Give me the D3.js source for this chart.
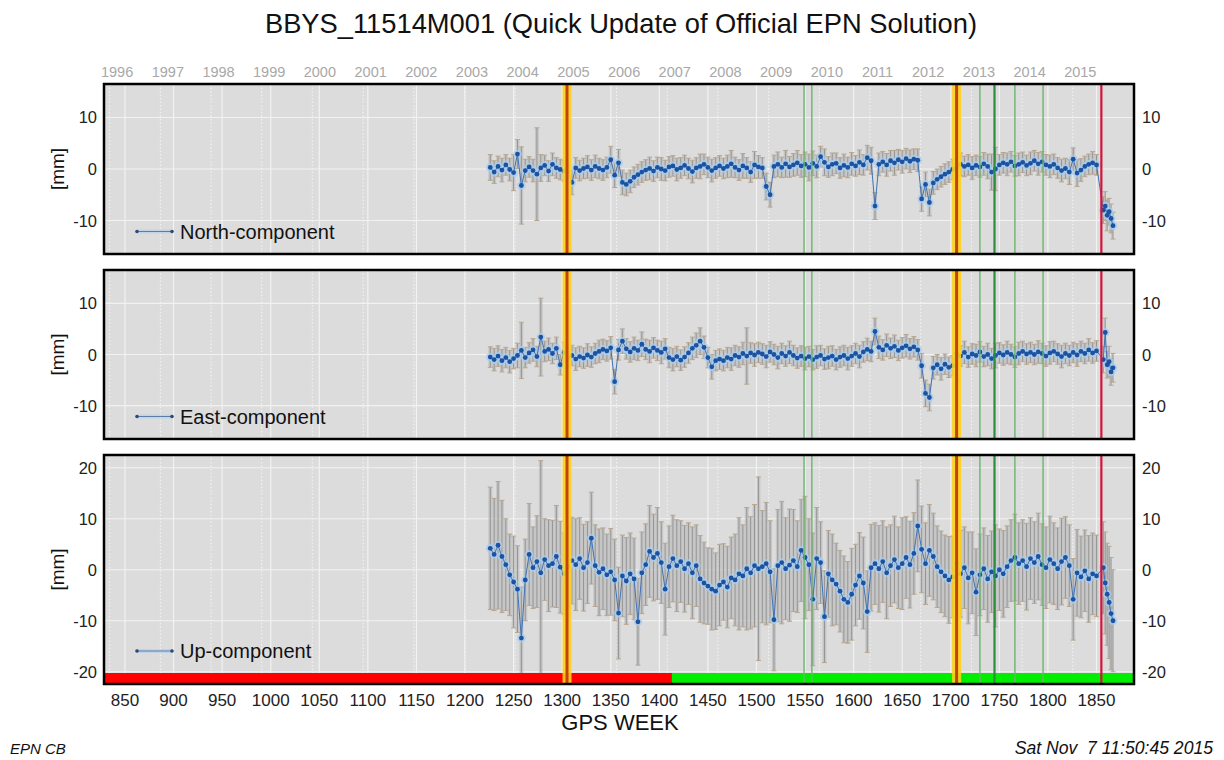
<!DOCTYPE html>
<html><head><meta charset="utf-8">
<script src="https://cdn.jsdelivr.net/npm/d3@7"></script>
<style>
body{margin:0;background:#fff}
text{font-family:"Liberation Sans",Arial,Helvetica,sans-serif}
</style>
</head><body>
<svg id="c" width="1224" height="760"></svg>
<script>
// ---------------- DATA ----------------
const weeksMain = d3.range(1226, 1851, 4);           // sampled GPS weeks before the last break
const weeksPost = [1857, 1859, 1861, 1863, 1865, 1867]; // after the break
const weeks = weeksMain.concat(weeksPost);

const north = [
 0.3,-0.6,0.5,-0.2,0.8,-0.1,-0.7,2.9,-3.2,-0.3,
 0.4,-0.3,-1.0,0.2,0.7,-0.4,0.9,0.2,-0.1,-0.4,
 -0.6,-2.6,0.2,-0.3,0.1,0.4,-0.2,0.5,0.1,-0.2,
 0.3,1.8,-1.2,1.2,-2.6,-3.0,-2.4,-1.6,-1.1,-0.6,
 -0.2,0.1,-0.4,0.3,0.0,-0.3,0.4,0.6,-0.1,0.2,
 0.7,0.1,-0.5,0.2,0.5,0.9,0.3,-0.3,0.2,0.6,
 0.1,0.5,1.0,0.3,-0.2,0.6,0.2,-0.6,0.8,0.4,
 0.2,-3.4,-5.0,0.5,0.9,0.3,1.0,0.4,0.8,1.2,
 0.6,0.9,0.3,1.1,0.5,2.4,1.3,0.4,0.9,1.1,
 0.2,0.7,0.3,1.0,0.6,1.3,0.8,2.2,1.6,-7.2,
 0.9,1.4,0.8,1.6,1.2,1.8,1.4,2.0,1.5,1.9,
 1.7,-5.8,-3.0,-6.5,-2.7,-2.0,-1.5,-1.0,-0.6,-0.1,
 0.3,0.9,0.5,0.8,0.2,0.7,0.4,1.0,0.5,-0.6,
 0.0,0.8,1.2,0.9,1.4,0.6,0.9,1.3,0.7,1.1,
 1.6,1.0,1.4,0.8,0.5,0.9,0.2,-0.3,0.1,-0.6,
 1.9,-0.8,-0.2,0.5,0.9,1.2,0.8,
 -8.0,-7.2,-9.0,-8.3,-9.6,-11.0
];
const northSig = [
 2.5,2.2,2.0,2.3,2.0,2.2,3.5,2.8,7.5,2.2,
 2.0,2.2,9.0,2.6,2.0,2.0,2.2,2.0,2.0,2.0,
 2.0,2.4,2.0,2.0,2.0,2.2,2.0,2.2,2.0,2.0,
 2.0,2.6,2.4,2.6,2.4,2.2,2.2,2.0,2.0,2.0,
 2.0,2.2,2.0,2.0,2.2,2.0,2.0,2.0,2.2,2.0,
 2.0,2.0,2.2,2.0,2.4,2.0,2.0,2.2,2.0,2.0,
 2.0,2.2,2.6,2.0,2.0,2.4,2.0,2.0,2.6,2.2,
 2.0,2.6,2.4,2.2,2.4,2.0,2.6,2.0,2.2,2.4,
 2.2,2.4,2.6,2.4,2.2,2.0,2.6,2.0,2.2,2.0,
 2.0,2.2,2.0,2.2,2.0,2.4,2.0,2.4,2.6,2.6,
 2.2,2.0,2.2,2.0,2.4,2.0,2.2,2.0,2.2,2.0,
 2.2,2.4,2.4,2.6,2.2,2.0,2.0,2.0,2.0,2.0,
 2.0,2.2,2.0,2.0,2.2,2.0,2.0,2.2,2.4,3.5,
 4.2,2.0,2.0,2.2,2.0,2.0,2.2,2.0,2.0,2.2,
 2.0,2.2,2.0,2.0,2.2,2.0,2.0,2.2,2.0,2.4,
 2.2,2.6,2.2,2.0,2.0,2.2,2.0,
 2.6,2.8,3.0,2.6,2.8,2.6
];
const east = [
 -0.5,-1.0,-0.3,-1.2,-0.6,-1.4,-0.8,-0.2,0.8,-0.6,
 0.3,0.9,-0.4,3.4,0.6,1.0,0.2,1.2,-2.0,0.4,
 -0.6,-0.2,-0.9,-0.4,-0.7,-0.1,-0.5,0.2,0.6,1.0,
 0.7,1.3,-5.3,0.9,2.6,1.1,0.5,1.2,0.8,2.0,
 1.0,0.6,1.3,0.8,0.4,1.1,-0.6,-1.0,-0.4,-1.1,
 -0.5,0.3,1.2,1.8,2.6,1.4,-0.6,-2.4,-1.2,-0.9,
 -1.2,-0.6,-0.9,-0.2,-0.5,0.2,-0.3,0.3,-0.1,0.4,
 0.1,-0.4,0.5,0.0,-0.6,0.2,-0.3,0.4,-0.2,-0.7,
 -0.3,-0.8,-0.4,-1.0,-0.5,-0.2,-0.9,-0.6,-0.3,-1.0,
 -0.5,-0.2,-0.8,-0.3,0.2,-0.4,0.5,1.0,0.6,4.5,
 1.4,0.9,1.8,1.2,1.6,0.8,1.3,1.7,1.1,1.5,
 0.9,-2.2,-7.6,-8.4,-2.6,-2.0,-2.8,-1.9,-2.5,-2.2,
 0.2,-0.3,0.4,-0.5,0.1,-0.2,0.5,-0.4,0.0,-0.8,
 -0.2,0.3,-0.1,0.4,0.0,-0.5,0.2,0.6,0.1,0.4,
 0.0,0.5,0.2,-0.3,0.3,0.6,0.1,-0.4,0.2,-0.2,
 0.4,-0.1,0.6,0.2,0.9,0.3,0.7,
 -1.0,4.3,-2.0,-1.4,-3.4,-2.6
];
const eastSig = [
 2.0,2.2,2.0,2.2,2.0,2.2,2.0,2.4,5.5,2.0,
 2.0,2.2,2.0,7.6,2.0,2.2,2.0,2.2,2.0,2.0,
 2.0,2.0,2.2,2.0,2.0,2.2,2.0,2.0,2.2,2.0,
 2.0,2.2,2.4,2.0,2.4,2.0,2.0,2.2,2.0,2.4,
 2.0,2.2,2.0,2.0,2.2,2.0,2.0,2.2,2.0,2.0,
 2.0,2.0,2.2,2.4,2.6,2.2,2.0,2.4,2.0,2.0,
 2.0,2.0,2.2,2.0,2.0,2.2,5.5,2.0,2.2,2.0,
 2.0,2.2,2.0,2.0,2.2,2.0,2.0,2.2,2.0,2.0,
 2.0,2.2,2.0,2.0,2.2,2.0,2.0,2.2,2.0,2.0,
 2.0,2.0,2.2,2.0,2.0,2.2,2.0,2.2,2.0,2.6,
 2.2,2.0,2.2,2.0,2.2,2.0,2.0,2.2,2.0,2.0,
 2.0,2.4,2.6,2.6,2.2,2.0,2.2,2.0,2.0,2.0,
 2.0,2.0,2.2,2.0,2.0,2.2,2.0,2.0,2.2,2.0,
 2.4,2.0,2.0,2.2,2.0,2.0,2.2,2.0,2.0,2.0,
 2.0,2.2,2.0,2.0,2.2,2.0,2.0,2.2,2.0,2.0,
 2.0,2.2,2.0,2.0,2.2,2.0,2.0,
 2.6,2.8,2.6,3.0,2.6,2.8
];
const up = [
 4.2,3.0,4.8,2.6,1.0,-1.0,-2.4,-3.8,-13.4,-2.0,
 3.0,0.4,1.6,-0.6,2.0,0.8,1.2,2.6,0.5,-0.8,
 0.6,1.8,1.0,2.2,0.4,1.4,6.2,0.8,-0.5,0.2,
 -1.0,-0.4,-2.0,-8.5,-1.2,-2.2,-0.8,-1.8,-10.2,-0.6,
 1.0,3.6,2.4,3.2,1.4,-3.8,0.6,2.2,0.8,1.6,
 0.2,1.2,-0.6,0.8,-1.8,-2.6,-3.2,-3.8,-4.2,-3.0,
 -2.4,-3.4,-1.6,-2.0,-0.8,-1.2,0.2,-0.6,0.8,0.2,
 0.6,1.2,-0.4,-9.8,0.8,1.4,0.2,0.9,1.8,0.6,
 3.8,2.4,1.0,-5.8,2.2,1.4,-9.2,-0.8,-2.0,-2.8,
 -4.2,-5.8,-6.4,-4.8,-3.0,-1.2,-2.6,-8.2,0.4,1.2,
 0.2,1.6,-0.6,0.8,2.0,0.4,1.2,2.4,1.0,3.2,
 8.6,4.0,1.2,3.8,2.6,0.6,-0.4,-1.2,-2.0,-1.4,
 1.2,-0.8,0.4,-1.6,-0.6,-4.4,-1.0,0.2,-1.8,-0.4,
 -1.2,0.0,-0.8,0.6,1.8,2.4,1.2,1.8,0.6,2.2,
 1.4,2.6,1.0,0.4,2.0,1.2,0.2,1.6,2.4,0.8,
 -5.8,-0.6,-1.4,-0.2,-1.8,-0.8,-1.2,
 0.4,-2.6,-4.8,-6.4,-8.6,-10.0
];
const upSig = [
 12.0,11.0,12.5,11.0,9.0,8.0,9.0,8.5,10.0,8.0,
 10.0,8.0,9.0,22.0,8.0,9.0,8.5,10.0,9.0,8.0,
 8.0,8.5,9.0,8.0,8.5,8.0,9.0,8.0,8.5,8.0,
 8.0,8.5,8.0,9.0,8.0,8.5,8.0,8.0,8.5,8.0,
 8.0,9.0,8.5,9.0,8.0,9.0,8.0,8.5,9.0,8.0,
 8.5,8.0,9.0,8.0,8.5,8.0,7.5,8.0,7.5,8.0,
 7.5,8.0,8.0,9.0,11.0,10.0,12.0,11.0,12.0,18.0,
 11.0,12.0,10.0,10.0,11.0,12.0,10.0,11.0,10.0,9.0,
 10.0,12.0,9.0,13.0,10.0,8.0,9.0,8.5,9.0,8.0,
 8.0,8.5,8.0,9.0,8.0,8.5,9.0,8.0,8.5,8.0,
 8.5,8.0,9.0,8.0,8.5,8.0,9.0,8.0,8.5,8.0,
 9.0,8.5,8.0,9.0,8.5,8.0,8.0,8.0,8.5,8.0,
 8.0,8.5,8.0,9.0,8.0,8.5,8.0,8.0,8.5,8.0,
 10.0,8.0,8.5,8.0,8.0,8.5,8.0,8.0,8.5,8.0,
 8.0,8.5,8.0,8.0,8.5,8.0,8.0,8.5,8.0,8.0,
 8.0,8.5,8.0,8.0,8.5,8.0,8.0,
 9.0,10.0,10.0,11.0,11.0,10.0
];

const weekTicks = d3.range(850, 1851, 50);
const yearLabels = d3.range(1996, 2016);
const hvTicks = [-10, 0, 10];
const upTicks = [-20, -10, 0, 10, 20];

// station events (GPS week)
const antennaChanges = [1305, 1706];
const equipChanges = [1549, 1557, 1730, 1766, 1795];
const majorEquip = [1745];
const discontinuity = [1855];
// data-quality bar
const qualityBar = [{from: 828, to: 1413, color: "#ff0000"}, {from: 1413, to: 1889, color: "#00ee00"}];

const components = [
  {name: "North-component", vals: north, sig: northSig, domain: [-16.5, 16.5], ticks: hvTicks, top: 84, bottom: 254},
  {name: "East-component",  vals: east,  sig: eastSig,  domain: [-16.5, 16.5], ticks: hvTicks, top: 270, bottom: 439},
  {name: "Up-component",    vals: up,    sig: upSig,    domain: [-22.4, 22.5], ticks: upTicks, top: 455, bottom: 684, bar: true}
];

// ---------------- DRAW ----------------
const svg = d3.select("#c");
const L = 104, R = 1134;
const x = d3.scaleLinear().domain([828.4, 1888.6]).range([L, R]);
const gpsEpoch = Date.UTC(1980, 0, 6);
const yearWeek = yr => (Date.UTC(yr, 0, 1) - gpsEpoch) / (7 * 86400000);
const step = x(1230) - x(1226);

// title
svg.append("text").attr("x", 621).attr("y", 33).attr("text-anchor", "middle")
  .attr("font-size", 27.3).attr("fill", "#111")
  .text("BBYS_11514M001 (Quick Update of Official EPN Solution)");

// year labels on top
svg.append("g").selectAll("text").data(yearLabels).join("text")
  .attr("x", d => x(yearWeek(d)) + 7.5).attr("y", 77).attr("text-anchor", "middle")
  .attr("font-size", 14.5).attr("fill", "#a8a8a8").text(d => d);

components.forEach((c, ci) => {
  const y = d3.scaleLinear().domain(c.domain).range([c.bottom, c.top]);
  const g = svg.append("g");
  const clipId = "clip" + ci;
  svg.append("clipPath").attr("id", clipId).append("rect")
    .attr("x", L).attr("y", c.top).attr("width", R - L).attr("height", c.bottom - c.top);
  const pg = g.append("g").attr("clip-path", `url(#${clipId})`);

  pg.append("rect").attr("x", L).attr("y", c.top).attr("width", R - L).attr("height", c.bottom - c.top)
    .attr("fill", "#dcdcdc");
  // week grid
  pg.selectAll(".vg").data(weekTicks).join("line")
    .attr("x1", d => x(d)).attr("x2", d => x(d)).attr("y1", c.top).attr("y2", c.bottom)
    .attr("stroke", "#f2f2f2").attr("stroke-width", 1.2);
  // year dotted grid
  pg.selectAll(".yg").data(yearLabels).join("line")
    .attr("x1", d => x(yearWeek(d))).attr("x2", d => x(yearWeek(d))).attr("y1", c.top).attr("y2", c.bottom)
    .attr("stroke", "#f4f4f4").attr("stroke-width", 1).attr("stroke-dasharray", "1.5,2");
  // horizontal grid
  pg.selectAll(".hg").data(c.ticks).join("line")
    .attr("x1", L).attr("x2", R).attr("y1", d => y(d)).attr("y2", d => y(d))
    .attr("stroke", "#f2f2f2").attr("stroke-width", 1.2);

  const pts = weeks.map((w, i) => ({w, v: c.vals[i], s: c.sig[i]}));
  const ptsMain = pts.filter(d => d.w < 1855), ptsPost = pts.filter(d => d.w >= 1855);
  // error bars: shaded span (dense weekly bars) + the bar itself
  const eb = pg.append("g");
  eb.selectAll("rect.span").data(pts).join("rect").attr("class", "span")
    .attr("x", d => x(d.w) - step / 2).attr("width", d => d.w < 1855 ? step : step / 2)
    .attr("y", d => y(d.v + d.s)).attr("height", d => y(d.v - d.s) - y(d.v + d.s))
    .attr("fill", "#b4b4b4").attr("opacity", 0.55);
  eb.selectAll("line.bar").data(pts).join("line").attr("class", "bar")
    .attr("x1", d => x(d.w)).attr("x2", d => x(d.w))
    .attr("y1", d => y(d.v + d.s)).attr("y2", d => y(d.v - d.s))
    .attr("stroke", "#959595").attr("stroke-width", 1);
  ["top", "bot"].forEach(k => {
    eb.selectAll("line.cap" + k).data(pts).join("line").attr("class", "cap" + k)
      .attr("x1", d => x(d.w) - 2.5).attr("x2", d => x(d.w) + 2.5)
      .attr("y1", d => y(k === "top" ? d.v + d.s : d.v - d.s))
      .attr("y2", d => y(k === "top" ? d.v + d.s : d.v - d.s))
      .attr("stroke", "#b9a68e").attr("stroke-width", 1);
  });
  // halo
  pg.selectAll("circle.halo").data(pts).join("circle").attr("class", "halo")
    .attr("cx", d => x(d.w)).attr("cy", d => y(d.v)).attr("r", 4.3)
    .attr("fill", "#a9cdee").attr("opacity", 0.8);
  // line
  pg.append("path").datum(pts)
    .attr("d", d3.line().x(d => x(d.w)).y(d => y(d.v)))
    .attr("fill", "none").attr("stroke", "#3f73b5").attr("stroke-width", 1);
  // points
  pg.selectAll("circle.pt").data(pts).join("circle").attr("class", "pt")
    .attr("cx", d => x(d.w)).attr("cy", d => y(d.v)).attr("r", 2.4)
    .attr("fill", "#1c52a0");

  // quality bar
  if (c.bar) {
    pg.selectAll("rect.qb").data(qualityBar).join("rect").attr("class", "qb")
      .attr("x", d => x(d.from)).attr("width", d => x(d.to) - x(d.from))
      .attr("y", c.bottom - 11).attr("height", 11).attr("fill", d => d.color);
  }

  // event lines
  pg.selectAll(".ant").data(antennaChanges).join("rect")
    .attr("x", d => x(d) - 4.5).attr("width", 9).attr("y", c.top).attr("height", c.bottom - c.top)
    .attr("fill", "#ffd21a").attr("opacity", 0.9);
  pg.selectAll(".antc").data(antennaChanges).join("line")
    .attr("x1", d => x(d)).attr("x2", d => x(d)).attr("y1", c.top).attr("y2", c.bottom)
    .attr("stroke", "#c4420e").attr("stroke-width", 3);
  pg.selectAll(".eq").data(equipChanges).join("line")
    .attr("x1", d => x(d)).attr("x2", d => x(d)).attr("y1", c.top).attr("y2", c.bottom)
    .attr("stroke", "#6cb56c").attr("stroke-width", 1.4);
  pg.selectAll(".meq").data(majorEquip).join("line")
    .attr("x1", d => x(d)).attr("x2", d => x(d)).attr("y1", c.top).attr("y2", c.bottom)
    .attr("stroke", "#2f8c3f").attr("stroke-width", 2.2);
  pg.selectAll(".disc").data(discontinuity).join("line")
    .attr("x1", d => x(d)).attr("x2", d => x(d)).attr("y1", c.top).attr("y2", c.bottom)
    .attr("stroke", "#d3143c").attr("stroke-width", 2.2);

  // legend
  const ly = c.bottom - (c.bar ? 33 : 22.5);
  const lg = pg.append("g");
  lg.append("line").attr("x1", 137).attr("x2", 172).attr("y1", ly).attr("y2", ly)
    .attr("stroke", "#a9cdee").attr("stroke-width", 4).attr("opacity", 0.5);
  lg.append("line").attr("x1", 137).attr("x2", 172).attr("y1", ly).attr("y2", ly)
    .attr("stroke", "#5a7ea8").attr("stroke-width", 1);
  lg.selectAll("circle").data([137, 172]).join("circle")
    .attr("cx", d => d).attr("cy", ly).attr("r", 1.8).attr("fill", "#2a4a78");
  lg.append("text").attr("x", 180).attr("y", ly + 7).attr("font-size", 20).attr("fill", "#111")
    .text(c.name);

  // border
  g.append("rect").attr("x", L).attr("y", c.top).attr("width", R - L).attr("height", c.bottom - c.top)
    .attr("fill", "none").attr("stroke", "#000").attr("stroke-width", 2.5);

  // axes labels (left and right)
  g.selectAll(".tl").data(c.ticks).join("text")
    .attr("x", 97).attr("y", d => y(d) + 6).attr("text-anchor", "end")
    .attr("font-size", 16.5).attr("fill", "#222").text(d => d);
  g.selectAll(".tr").data(c.ticks).join("text")
    .attr("x", 1142).attr("y", d => y(d) + 6).attr("text-anchor", "start")
    .attr("font-size", 16.5).attr("fill", "#222").text(d => d);
  g.append("text").attr("transform", `translate(64,${(c.top + c.bottom) / 2}) rotate(-90)`)
    .attr("text-anchor", "middle").attr("font-size", 19).attr("fill", "#111").text("[mm]");
});

// bottom x axis labels
svg.append("g").selectAll("text").data(weekTicks).join("text")
  .attr("x", d => x(d)).attr("y", 706).attr("text-anchor", "middle")
  .attr("font-size", 17).attr("fill", "#222").text(d => d);
svg.append("text").attr("x", 620).attr("y", 730).attr("text-anchor", "middle")
  .attr("font-size", 22).attr("fill", "#111").text("GPS WEEK");

svg.append("text").attr("x", 10).attr("y", 754).attr("font-size", 15).attr("font-style", "italic")
  .attr("fill", "#111").text("EPN CB");
svg.append("text").attr("x", 1213).attr("y", 754).attr("text-anchor", "end").attr("font-size", 17.6)
  .attr("font-style", "italic").attr("fill", "#111").style("white-space", "pre")
  .text("Sat Nov  7 11:50:45 2015");
</script>
</body></html>
